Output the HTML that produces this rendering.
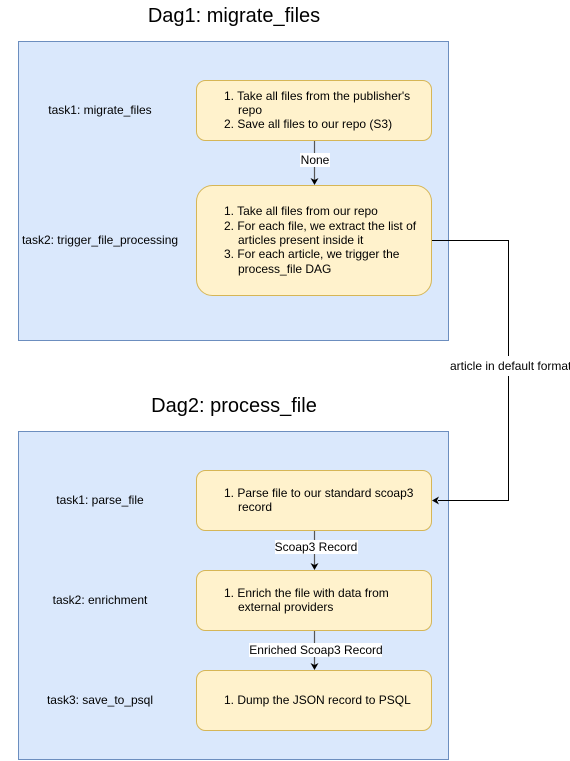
<!DOCTYPE html>
<html><head><meta charset="utf-8"><style>
html,body{margin:0;padding:0;background:#fff;overflow:hidden;}
svg{display:block;}
text{font-family:"Liberation Sans",Arial,sans-serif;fill:#000;}
</style></head><body>
<svg width="570" height="761" viewBox="0 0 570 761" xmlns="http://www.w3.org/2000/svg">
<text x="234" y="22" font-size="20" text-anchor="middle">Dag1: migrate_files</text>
<rect x="18.5" y="41.5" width="430" height="299" fill="#dae8fc" stroke="#6c8ebf"/>
<text x="100" y="114" font-size="12" text-anchor="middle">task1: migrate_files</text>
<text x="100" y="244" font-size="12" text-anchor="middle">task2: trigger_file_processing</text>
<rect x="196.5" y="80.5" width="235" height="60" rx="9" fill="#fff2cc" stroke="#d6b656"/>
<g font-size="12">
<text x="224" y="100">1. Take all files from the publisher's</text>
<text x="238" y="114">repo</text>
<text x="224" y="128">2. Save all files to our repo (S3)</text>
</g>
<rect x="196.5" y="185.5" width="235" height="110" rx="16" fill="#fff2cc" stroke="#d6b656"/>
<g font-size="12">
<text x="224" y="215">1. Take all files from our repo</text>
<text x="224" y="230">2. For each file, we extract the list of</text>
<text x="238" y="244">articles present inside it</text>
<text x="224" y="258">3. For each article, we trigger the</text>
<text x="238" y="273">process_file DAG</text>
</g>
<line x1="314.5" y1="141" x2="314.5" y2="180" stroke="#555" stroke-width="1.2"/>
<rect x="300" y="153" width="30" height="14" fill="#fff"/>
<text x="315" y="164" font-size="12" text-anchor="middle">None</text>
<path d="M310.5 178 L314.5 185 L318.5 178 L314.5 180 Z" fill="#000"/>

<text x="234" y="412" font-size="20" text-anchor="middle">Dag2: process_file</text>
<rect x="18.5" y="431.5" width="430" height="328" fill="#dae8fc" stroke="#6c8ebf"/>
<text x="100" y="504" font-size="12" text-anchor="middle">task1: parse_file</text>
<text x="100" y="604" font-size="12" text-anchor="middle">task2: enrichment</text>
<text x="100" y="704" font-size="12" text-anchor="middle">task3: save_to_psql</text>
<rect x="196.5" y="470.5" width="235" height="60" rx="9" fill="#fff2cc" stroke="#d6b656"/>
<text x="224" y="497" font-size="12">1. Parse file to our standard scoap3</text>
<text x="238" y="511" font-size="12">record</text>
<rect x="196.5" y="570.5" width="235" height="60" rx="9" fill="#fff2cc" stroke="#d6b656"/>
<text x="224" y="597" font-size="12">1. Enrich the file with data from</text>
<text x="238" y="611" font-size="12">external providers</text>
<rect x="196.5" y="670.5" width="235" height="60" rx="9" fill="#fff2cc" stroke="#d6b656"/>
<text x="224" y="704" font-size="12">1. Dump the JSON record to PSQL</text>

<line x1="314.5" y1="531" x2="314.5" y2="566" stroke="#555" stroke-width="1.2"/>
<rect x="275" y="540" width="83" height="14" fill="#fff"/>
<text x="316" y="551" font-size="12" text-anchor="middle">Scoap3 Record</text>
<path d="M310.5 563 L314.5 570 L318.5 563 L314.5 565 Z" fill="#000"/>
<line x1="314.5" y1="631" x2="314.5" y2="666" stroke="#555" stroke-width="1.2"/>
<rect x="249" y="643" width="133" height="14" fill="#fff"/>
<text x="316" y="654" font-size="12" text-anchor="middle">Enriched Scoap3 Record</text>
<path d="M310.5 663 L314.5 670 L318.5 663 L314.5 665 Z" fill="#000"/>

<polyline points="432,240.5 508.5,240.5 508.5,356" fill="none" stroke="#000"/>
<polyline points="508.5,376 508.5,500.5 438,500.5" fill="none" stroke="#000"/>
<path d="M432 500.5 L439 496.5 L437 500.5 L439 504.5 Z" fill="#000"/>
<text x="450" y="370" font-size="12">article in default format</text>
</svg>
</body></html>
